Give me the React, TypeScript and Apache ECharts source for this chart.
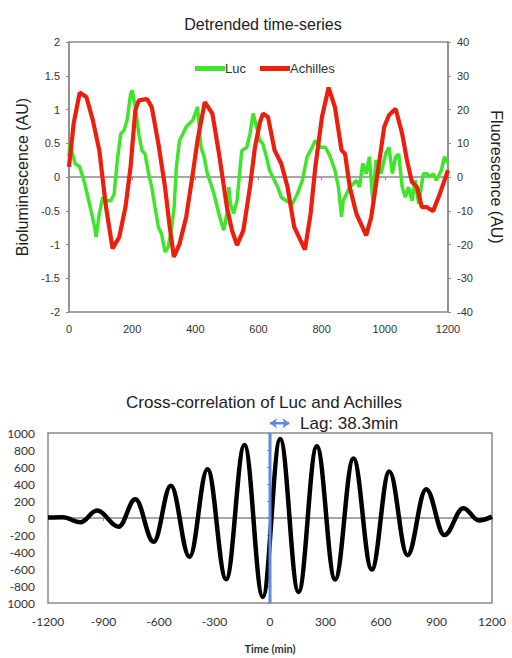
import React, { useEffect, useRef } from "react";
import * as echarts from "echarts";

const lucT = [0, 3, 19, 34, 50, 65, 81, 86, 96, 107, 117, 133, 143, 153, 164, 174, 184, 195, 200, 210, 221, 231, 241, 252, 262, 272, 283, 293, 304, 314, 324, 333, 340, 350, 361, 371, 381, 392, 407, 418, 428, 438, 449, 459, 469, 480, 490, 500, 506, 511, 521, 532, 547, 563, 573, 583, 594, 604, 614, 625, 635, 645, 661, 672, 687, 707, 723, 739, 754, 770, 780, 796, 812, 827, 842, 853, 863, 868, 879, 889, 900, 910, 920, 930, 941, 951, 962, 972, 988, 1003, 1013, 1024, 1034, 1044, 1055, 1065, 1075, 1086, 1096, 1107, 1122, 1132, 1143, 1153, 1163, 1179, 1189, 1200];
const lucV = [0.3, 0.49, 0.2, 0.15, -0.1, -0.4, -0.74, -0.89, -0.54, -0.3, -0.35, -0.35, -0.25, 0.25, 0.64, 0.69, 0.84, 1.23, 1.28, 1.04, 0.64, 0.39, 0.34, 0.05, -0.15, -0.44, -0.74, -0.84, -1.11, -1.04, -0.79, -0.44, 0.15, 0.54, 0.64, 0.74, 0.79, 0.84, 1.04, 0.44, 0.3, 0.05, -0.1, -0.25, -0.44, -0.64, -0.79, -0.54, -0.15, -0.4, -0.54, -0.35, 0.39, 0.44, 0.64, 0.94, 0.74, 0.54, 0.49, 0.3, 0.1, 0.0, -0.15, -0.3, -0.35, -0.4, -0.25, -0.05, 0.3, 0.44, 0.54, 0.44, 0.44, 0.3, 0.1, -0.15, -0.59, -0.35, -0.25, -0.15, -0.1, -0.05, -0.15, 0.2, 0.05, 0.3, -0.35, 0.25, 0.05, 0.35, 0.44, 0.05, 0.3, 0.34, -0.15, -0.3, -0.15, -0.35, -0.05, -0.4, 0.05, 0.05, 0.0, 0.05, -0.05, 0.1, 0.3, 0.2];

const achT = [0, 15, 34, 55, 75, 96, 117, 138, 159, 179, 195, 210, 221, 247, 262, 283, 304, 319, 332, 350, 371, 392, 407, 430, 454, 475, 500, 516, 532, 552, 573, 589, 604, 614, 630, 651, 672, 692, 713, 733, 747, 765, 780, 801, 822, 842, 863, 874, 889, 910, 941, 957, 977, 998, 1013, 1034, 1055, 1070, 1086, 1102, 1117, 1132, 1153, 1174, 1200];
const achV = [3, 16, 25, 23.7, 17, 7.9, -8.8, -21.2, -17.8, -8.8, 3, 19.8, 22.7, 23.1, 20.7, 9.9, -3, -14.8, -23.7, -19.8, -11.9, 1, 10.9, 22.2, 18.8, 6.9, -8.9, -15.8, -20.2, -15.8, -3, 8.9, 16, 18.8, 17.8, 7.9, 4, -3, -14.8, -18.8, -21.5, -10.9, 3, 17.8, 26.5, 20.7, 7.9, 6.9, -3, -10.9, -17.3, -11.9, 1, 14.8, 18.3, 20.2, 12.8, 5, -1.5, -3, -8.9, -8.9, -10.1, -5, 2];

// cross-correlation: extrema (plus flat ends)
const ccT = [-1200, -1120, -1025, -935, -818, -728, -629, -536, -435, -338, -237, -138, -39, 55, 154, 253, 352, 451, 550, 645, 743, 844, 943, 1045, 1130, 1200];
const ccV = [5, 10, -50, 87, -102, 220, -280, 378, -457, 575, -720, 858, -929, 929, -870, 843, -724, 700, -606, 547, -437, 339, -201, 114, -28, 16];

const lagX = [0, 0];
const lagY = [-1000, 1000];
const arrowT = [0, 105];
const arrowY = [1115, 1115];
const lagText = "Lag: 38.3min";

const topXTicks = { min: 0, max: 1200, interval: 200 };
const leftTicks = { min: -2, max: 2, interval: 0.5 };
const rightTicks = { min: -40, max: 40, interval: 10 };
const ccXTicks = { min: -1200, max: 1200, interval: 300 };
const ccYTicks = { min: -1000, max: 1000, interval: 200 };

const zip = (a: number[], b: number[]) => a.map((x, i) => [x, b[i]]);

export default function App() {
  const ref = useRef<HTMLDivElement>(null);
  useEffect(() => {
    document.body.style.margin = "0";
    const chart = echarts.init(ref.current!, null, { renderer: "svg" });
    const axisLine = { show: true, lineStyle: { color: "#8a8a8a", width: 1.5 } };
    const font = "Liberation Sans";
    const plain = (v: number) => String(v);
    const lbl = { color: "#333", fontSize: 11, fontFamily: font, formatter: plain };
    const tick = { show: true, length: 3, lineStyle: { color: "#8a8a8a" } };
    chart.setOption({
      animation: false,
      backgroundColor: "#fff",
      title: [
        { text: "Detrended time-series", left: 258, textAlign: "center", top: 11, textStyle: { fontSize: 16, fontWeight: "normal", color: "#222", fontFamily: font } },
        { text: "Cross-correlation of Luc and Achilles", left: 259, textAlign: "center", top: 389, textStyle: { fontSize: 17, fontWeight: "normal", color: "#222", fontFamily: font } },
      ],
      legend: {
        left: 190, top: 57, itemWidth: 30, itemHeight: 5, itemGap: 14, icon: "rect",
        textStyle: { fontSize: 13, color: "#333", fontFamily: font, padding: [0, 0, 0, -5] },
        data: ["Luc", "Achilles"],
      },
      grid: [
        { left: 69, top: 42, width: 386, height: 270, show: true, borderColor: "#8a8a8a", borderWidth: 1.5, backgroundColor: "transparent" },
        { left: 48, top: 433, width: 444, height: 170, show: true, borderColor: "#8a8a8a", borderWidth: 1.5, backgroundColor: "transparent" },
      ],
      xAxis: [
        { type: "value", gridIndex: 0, ...topXTicks, axisLine, axisTick: tick, splitLine: { show: false }, axisLabel: { ...lbl, margin: 11 } },
        { type: "value", gridIndex: 1, ...ccXTicks, axisLine, axisTick: tick, splitLine: { show: false }, axisLabel: { ...lbl, fontSize: 12, fontFamily: "Lato", margin: 12 },
          name: "Time (min)", nameLocation: "middle", nameGap: 40, nameTextStyle: { fontSize: 11, fontWeight: "bold", color: "#333", fontFamily: "Lato" } },
      ],
      yAxis: [
        { type: "value", gridIndex: 0, position: "left", ...leftTicks, axisLine, axisTick: tick, splitLine: { show: false }, axisLabel: { ...lbl, margin: 9 },
          name: "Bioluminescence (AU)", nameLocation: "middle", nameGap: 37, nameTextStyle: { fontSize: 16, color: "#222", fontFamily: font } },
        { type: "value", gridIndex: 0, position: "right", ...rightTicks, axisLine, axisTick: tick, splitLine: { show: false }, axisLabel: { ...lbl, margin: 9 },
          name: "Fluorescence (AU)", nameLocation: "middle", nameGap: 40, nameRotate: -90, nameTextStyle: { fontSize: 16, color: "#222", fontFamily: font } },
        { type: "value", gridIndex: 1, ...ccYTicks, axisLine, axisTick: tick, splitLine: { show: false },
          axisLabel: { ...lbl, fontSize: 12, fontFamily: "Lato", margin: 13, formatter: (v: number) => (v === -1000 ? "1000" : String(v)) } },
      ],
      series: [
        { name: "Luc", type: "line", xAxisIndex: 0, yAxisIndex: 0, data: zip(lucT, lucV), showSymbol: false, color: "#3fe52a", lineStyle: { width: 3.5, color: "#3fe52a" }, z: 2 },
        { name: "Achilles", type: "line", xAxisIndex: 0, yAxisIndex: 1, data: zip(achT, achV), showSymbol: false, color: "#ec1e0c", lineStyle: { width: 4.2, color: "#ec1e0c" }, z: 3 },
        { name: "xcorr", type: "line", xAxisIndex: 1, yAxisIndex: 2, data: zip(ccT, ccV), showSymbol: false, smooth: 0.38, smoothMonotone: "x", lineStyle: { width: 4.5, color: "#000" }, z: 2 },
        { name: "lag", type: "line", xAxisIndex: 1, yAxisIndex: 2, data: zip(lagX, lagY), showSymbol: false, lineStyle: { width: 3, color: "#5b8be0" }, z: 3, clip: false },
        { name: "lagArrow", type: "line", xAxisIndex: 1, yAxisIndex: 2, data: zip(arrowT, arrowY), clip: false, z: 4,
          showSymbol: true, symbol: "arrow", symbolSize: [8, 7],
          symbolRotate: (_v: any, p: any) => (p.dataIndex === 0 ? 90 : -90),
          itemStyle: { color: "#5b8be0" }, lineStyle: { width: 2.5, color: "#5b8be0" } },
      ],
      graphic: [
        { type: "text", left: 300, top: 415, style: { text: lagText, fontSize: 17, fill: "#222", fontFamily: font } },
      ],
    });
    return () => chart.dispose();
  }, []);
  return <div ref={ref} style={{ position: "fixed", left: 0, top: 0, width: 512, height: 658 }} />;
}
